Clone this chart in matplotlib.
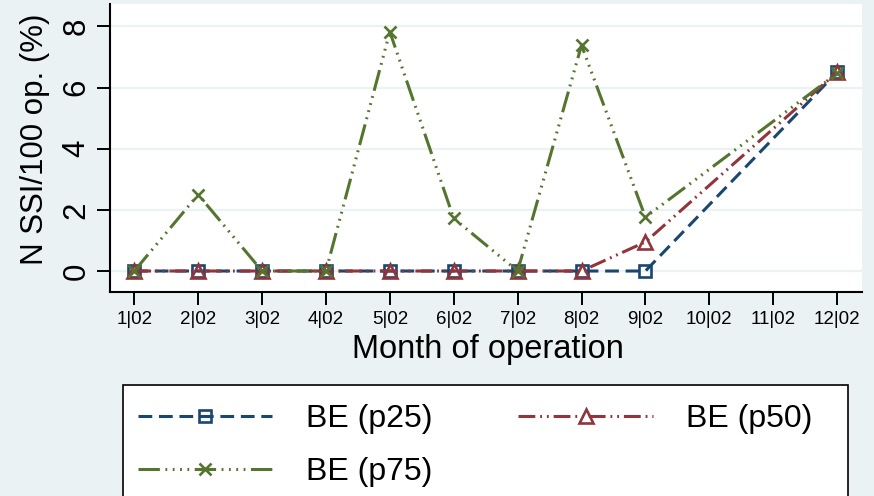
import numpy as np
import matplotlib
matplotlib.use("Agg")
import matplotlib.pyplot as plt
from matplotlib.patches import Rectangle

plt.rcParams['font.family'] = ['Liberation Sans', 'DejaVu Sans']

# data (months 10 and 11 have no value)
months = [1, 2, 3, 4, 5, 6, 7, 8, 9, 10, 11, 12]
month_labels = ['1|02', '2|02', '3|02', '4|02', '5|02', '6|02',
                '7|02', '8|02', '9|02', '10|02', '11|02', '12|02']
be_p25 = [0, 0, 0, 0, 0, 0, 0, 0, 0, np.nan, np.nan, 6.5]
be_p50 = [0, 0, 0, 0, 0, 0, 0, 0, 0.95, np.nan, np.nan, 6.5]
be_p75 = [0, 2.5, 0, 0, 7.82, 1.72, 0, 7.38, 1.76, np.nan, np.nan, 6.46]

bg = '#EAF2F3'
W, H = 874, 496

fig = plt.figure(figsize=(8.74, 4.96), dpi=100, facecolor=bg)
# axes box in pixels: left 110, right 862, top 4, bottom 292
ax = fig.add_axes([110 / W, 1 - 292 / H, (862 - 110) / W, (292 - 4) / H])
ax.set_facecolor('white')

series = [
    (be_p25, '#1a476f', 's', 9, (0, (4.5, 2.2)), 'BE (p25)'),
    (be_p50, '#90353b', '^', 10, (0, (5.5, 1.6, 0.6, 1.6, 0.6, 1.6)), 'BE (p50)'),
    (be_p75, '#55752f', 'x', 9, (0, (7.0, 1.8, 0.6, 1.8, 0.6, 1.8, 0.6, 1.8, 0.6, 1.8)), 'BE (p75)'),
]

x = np.array(months, dtype=float)
lines = []
for vals, col, mk, ms, ls, lab in series:
    y = np.array(vals, dtype=float)
    ok = ~np.isnan(y)
    ln, = ax.plot(x[ok], y[ok], color=col, lw=2.2, linestyle=ls, marker=mk,
                  markersize=ms, markerfacecolor='none', markeredgecolor=col,
                  markeredgewidth=1.9, label=lab, zorder=3, clip_on=False)
    lines.append(ln)

ax.set_xlim(0.62, 12.39)
ax.set_ylim(-0.686, 8.73)
ax.set_xticks(months)
ax.set_xticklabels(month_labels)
ax.set_yticks([0, 2, 4, 6, 8])

ax.yaxis.grid(True, color=bg, lw=1.6, zorder=0)
ax.set_axisbelow(True)

for s in ['top', 'right']:
    ax.spines[s].set_visible(False)
for s in ['left', 'bottom']:
    ax.spines[s].set_linewidth(1.5)
    ax.spines[s].set_color('black')

ax.tick_params(axis='x', length=9.4, width=1.4, labelsize=13.5, pad=4.5)
ax.tick_params(axis='y', length=9.4, width=1.4, labelsize=22.5, pad=4, labelrotation=90)
for t in ax.get_yticklabels():
    t.set_va('center')

ax.set_xlabel('Month of operation', fontsize=23.5)
ax.xaxis.set_label_coords(0.503, -0.201)
ax.xaxis.label.set_va('center')
ax.set_ylabel('N SSI/100 op. (%)', fontsize=22.5)
ax.yaxis.set_label_coords(-0.0997, 0.531)
ax.yaxis.label.set_va('center')

# legend frame (bottom runs past the picture edge)
fig.patches.append(Rectangle((123 / W, -0.05), (848 - 123) / W, 1 - 385 / H + 0.05,
                             transform=fig.transFigure, facecolor='white',
                             edgecolor='black', lw=1.2, zorder=0))

# rows: p25 p50 / p75  (legend fills column by column)
order = [0, 2, 1]
fig.legend([lines[i] for i in order], [lines[i].get_label() for i in order],
           loc='upper left', bbox_to_anchor=(123 / W, 1 - 389 / H),
           ncol=2, frameon=False, fontsize=23, handlelength=4.2, handletextpad=1.05,
           columnspacing=2.7, borderpad=0.47, borderaxespad=0, labelspacing=0.72,
           numpoints=1)

fig.savefig('out.png', dpi=100, facecolor=bg)
